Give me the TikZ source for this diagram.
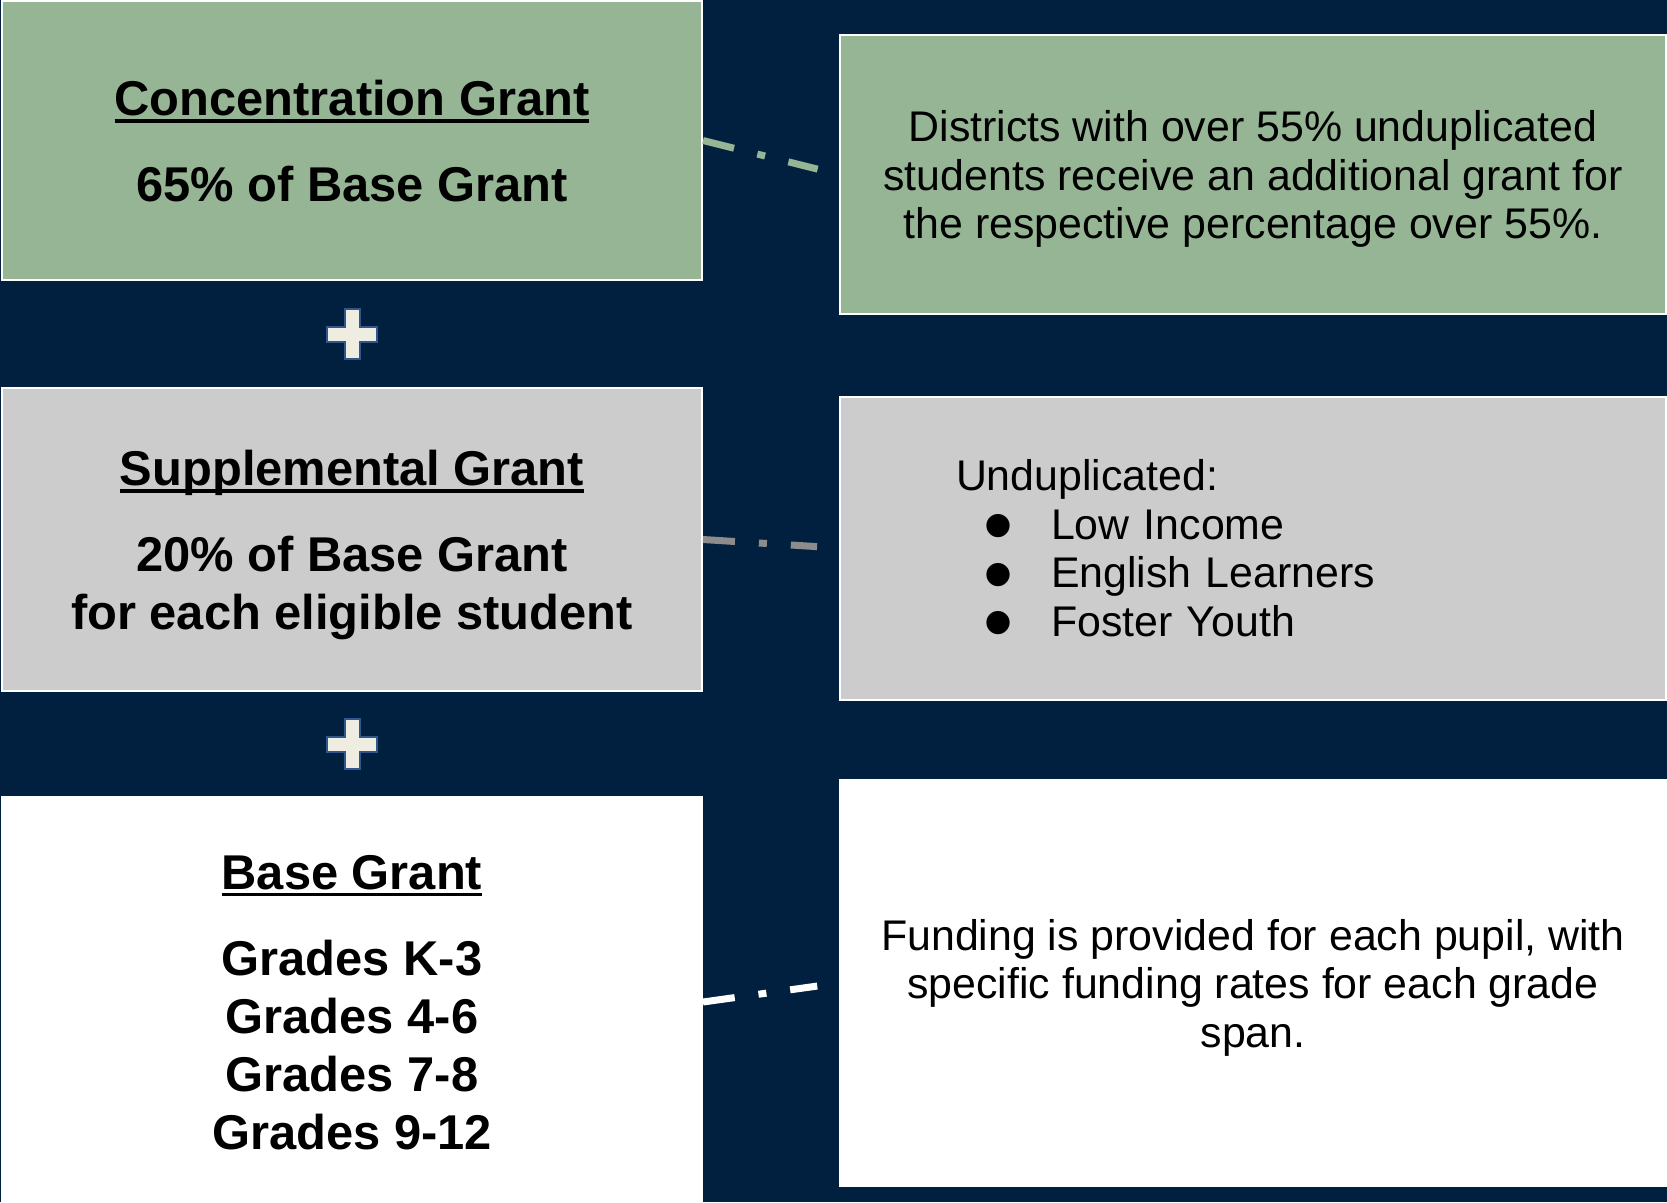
\documentclass[tikz,border=0pt]{standalone}
\usepackage{fontspec}
\setmainfont{Liberation Sans}
\usepackage{xcolor}
\usepackage{tikz}
\usetikzlibrary{positioning,calc}

\definecolor{navy}{RGB}{1,32,63}
\definecolor{sage}{RGB}{149,181,149}
\definecolor{lightgrey}{RGB}{204,204,204}
\definecolor{midgrey}{RGB}{140,140,140}
\definecolor{cream}{RGB}{239,236,225}
\definecolor{plusblue}{RGB}{46,88,138}

% heading with a heavy rule underneath
\newcommand{\ulhead}[1]{\setbox0=\hbox{#1}\rlap{\rule[-2.1pt]{\wd0}{1pt}}\box0}
% large round bullet for the list
\newcommand{\bigdot}{\makebox[6.8mm][l]{\raisebox{-0.36em}[0pt][0pt]{\scalebox{2}{\textbullet}}}}

\begin{document}
\begin{tikzpicture}[x=0.1mm, y=-0.1mm,
    box/.style={draw=white, line width=0.2mm, minimum width=70mm, align=center,
      text depth=0pt, font={\fontsize{13.9}{16.5}\selectfont\bfseries}},
    info/.style={draw=white, line width=0.2mm, minimum width=82.6mm, align=center,
      font={\fontsize{12.2}{13.8}\selectfont}},
    link/.style={line width=0.7mm, dash pattern=on 3.2mm off 2.4mm on 0.8mm off 2.4mm,
      shorten >=2.2mm},
    plus/.style={fill=cream, draw=plusblue, line width=0.2mm}]
  \useasboundingbox (0,0) rectangle (1667,1202);
  \fill[navy] (0,0) rectangle (1667,1202);

  \node[box, fill=sage, minimum height=27.9mm] (conc) at (352,140.5)
    {\ulhead{Concentration Grant}\\[2.8mm]65\% of Base Grant};
  \node[box, fill=lightgrey, minimum height=30.3mm] (supp) at (352,539.5)
    {\ulhead{Supplemental Grant}\\[2.8mm]20\% of Base Grant\\for each eligible student};
  \node[box, fill=white, minimum height=41mm] (base) at (352,1002)
    {\ulhead{Base Grant}\\[2.8mm]Grades K-3\\Grades 4-6\\Grades 7-8\\Grades 9-12};

  \node[info, fill=sage, minimum height=27.9mm, text depth=0pt] (concinfo) at (1253,174.5)
    {Districts with over 55\% unduplicated\\students receive an additional grant for\\the respective percentage over 55\%.};
  \node[info, fill=lightgrey, minimum height=30.3mm, align=left, text width=59.4mm,
    inner xsep=11.6mm] (suppinfo) at (1253,548)
    {Unduplicated:\\
     \hspace*{2.7mm}\bigdot Low Income\\
     \hspace*{2.7mm}\bigdot English Learners\\
     \hspace*{2.7mm}\bigdot Foster Youth};
  \node[info, fill=white, minimum height=40.6mm, text depth=0pt] (baseinfo) at (1253,983)
    {Funding is provided for each pupil, with\\specific funding rates for each grade\\span.};

  \foreach \a/\b in {conc/supp,supp/base}
    \filldraw[plus] ($(\a.south)!0.5!(\b.north)$) ++(-7.5,-25) -- ++(15,0) -- ++(0,17.5)
      -- ++(17.5,0) -- ++(0,15) -- ++(-17.5,0) -- ++(0,17.5) -- ++(-15,0)
      -- ++(0,-17.5) -- ++(-17.5,0) -- ++(0,-15) -- ++(17.5,0) -- cycle;

  \draw[link, sage] (conc.east) -- (concinfo.west);
  \draw[link, midgrey] (supp.east) -- (suppinfo.west);
  \draw[link, white] (base.east) -- (baseinfo.west);
\end{tikzpicture}
\end{document}
